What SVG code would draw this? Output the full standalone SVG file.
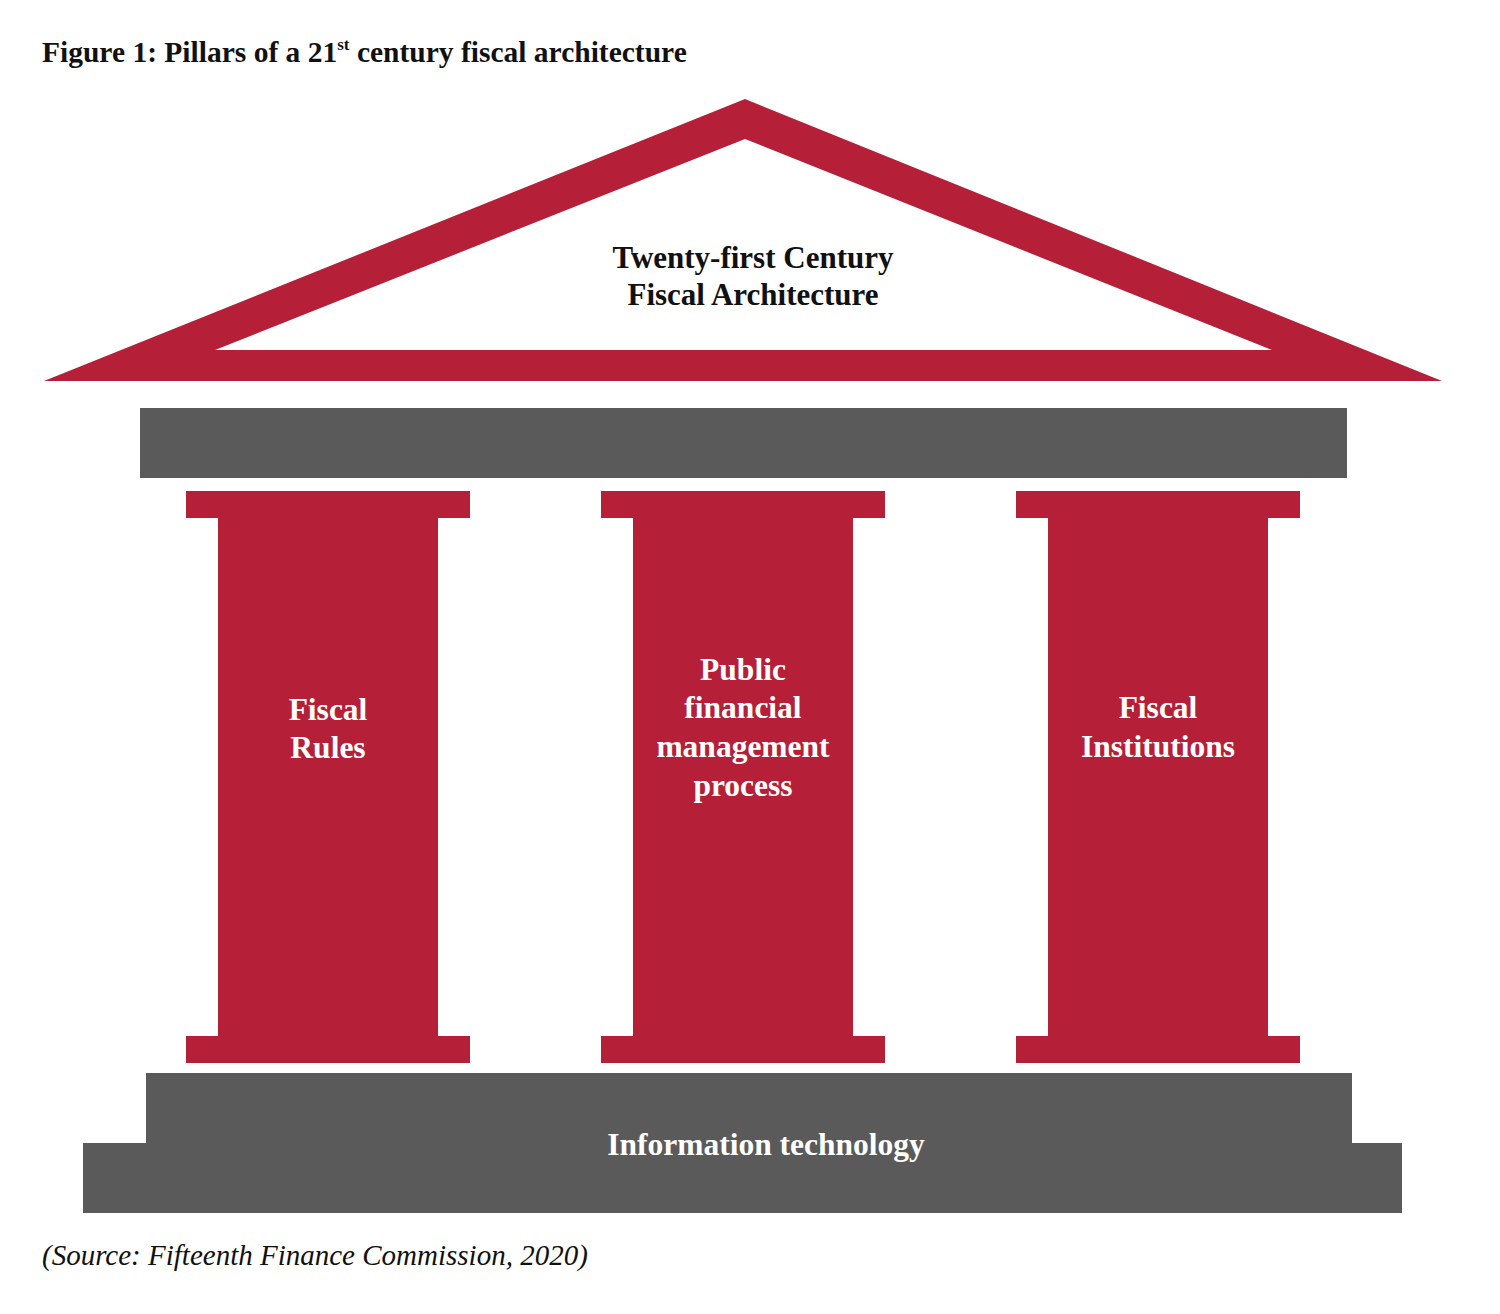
<svg xmlns="http://www.w3.org/2000/svg" width="1500" height="1314" viewBox="0 0 1500 1314">
<style>
.red{fill:#B51F38}
.gray{fill:#5A5A5A}
.t{font-family:"Liberation Serif","Times New Roman",serif;font-weight:bold}
.dark{fill:#111}
.w{fill:#fff;text-anchor:middle;font-size:31.5px}
.c{text-anchor:middle;font-size:31px}
</style>
<rect width="1500" height="1314" fill="#fff"/>
<text class="t dark" x="42" y="62" font-size="29.5">Figure 1: Pillars of a 21<tspan font-size="17" dy="-12">st</tspan><tspan dy="12"> century fiscal architecture</tspan></text>
<g id="roof">
<path class="red" fill-rule="evenodd" d="M745,99 L1442,381 L44,381 Z M745,139 L215,350 L1272,350 Z"/>
<text class="t dark c" x="753" y="268">Twenty-first Century</text>
<text class="t dark c" x="753" y="305">Fiscal Architecture</text>
</g>
<g id="beam"><rect class="gray" x="140" y="408" width="1207" height="70"/></g>
<g id="pillar1">
<path class="red" d="M186,491 H470 V518 H438 V1036 H470 V1063 H186 V1036 H218 V518 H186 Z"/>
<text class="t w" x="328" y="720">Fiscal</text>
<text class="t w" x="328" y="758">Rules</text>
</g>
<g id="pillar2">
<path class="red" d="M601,491 H885 V518 H853 V1036 H885 V1063 H601 V1036 H633 V518 H601 Z"/>
<text class="t w" x="743" y="680">Public</text>
<text class="t w" x="743" y="718">financial</text>
<text class="t w" x="743" y="757">management</text>
<text class="t w" x="743" y="796">process</text>
</g>
<g id="pillar3">
<path class="red" d="M1016,491 H1300 V518 H1268 V1036 H1300 V1063 H1016 V1036 H1048 V518 H1016 Z"/>
<text class="t w" x="1158" y="718">Fiscal</text>
<text class="t w" x="1158" y="757">Institutions</text>
</g>
<g id="base">
<path class="gray" d="M146,1073 H1352 V1143 H1402 V1213 H83 V1143 H146 Z"/>
<text class="t w" x="766" y="1155">Information technology</text>
</g>
<g id="connectors"></g>
<text x="42" y="1265" font-family="'Liberation Serif','Times New Roman',serif" font-style="italic" font-size="29" fill="#111">(Source: Fifteenth Finance Commission, 2020)</text>
</svg>
